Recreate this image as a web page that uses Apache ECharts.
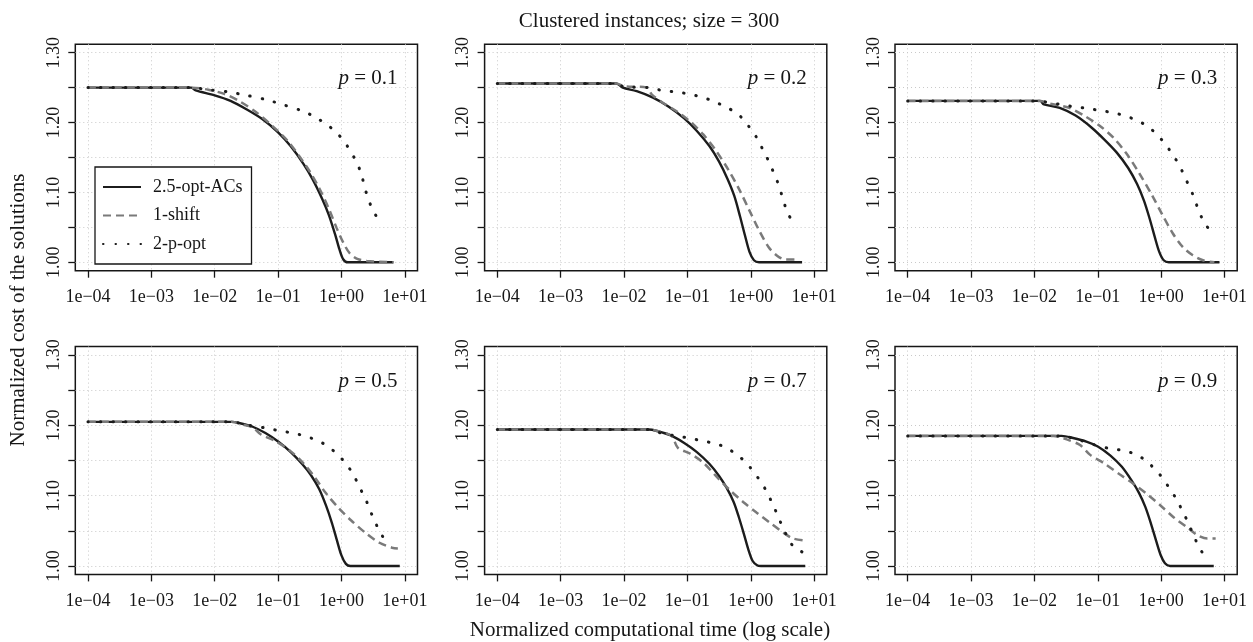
<!DOCTYPE html>
<html>
<head>
<meta charset="utf-8">
<script src="https://cdn.jsdelivr.net/npm/echarts@6/dist/echarts.min.js"></script>
<style>
html,body{margin:0;padding:0;background:#fff;}
#chart{width:1253px;height:642px;}
</style>
</head>
<body>
<div id="chart"></div>
<script>
// ---------- data (time given as log10 of normalized computational time) ----------
const seriesNames = ['2.5-opt-ACs', '1-shift', '2-p-opt'];
const panelLabels = ['0.1', '0.2', '0.3', '0.5', '0.7', '0.9'];
const xTickExponents = [-4, -3, -2, -1, 0, 1];
const yTickValues = [1.00, 1.05, 1.10, 1.15, 1.20, 1.25, 1.30];
const yLabelValues = [1.00, 1.10, 1.20, 1.30];

// p = 0.1
const p1_acs_t   = [-4, -2.37, -2.30, -2.0, -1.75, -1.5, -1.25, -1.0, -0.8, -0.6, -0.45, -0.3, -0.2, -0.1, -0.03, 0.03, 0.1, 0.82];
const p1_acs_c   = [1.250, 1.250, 1.246, 1.239, 1.231, 1.219, 1.205, 1.186, 1.166, 1.141, 1.118, 1.090, 1.068, 1.040, 1.018, 1.004, 1.000, 1.000];
const p1_shift_t = [-4, -2.37, -2.1, -1.85, -1.6, -1.35, -1.1, -0.85, -0.65, -0.5, -0.35, -0.2, -0.08, 0.03, 0.13, 0.25, 0.4, 0.82];
const p1_shift_c = [1.250, 1.250, 1.247, 1.241, 1.230, 1.215, 1.196, 1.174, 1.150, 1.130, 1.106, 1.077, 1.050, 1.028, 1.013, 1.005, 1.002, 1.000];
const p1_popt_t  = [-4, -2.37, -2.1, -1.8, -1.5, -1.2, -0.9, -0.6, -0.4, -0.2, -0.05, 0.08, 0.2, 0.3, 0.39, 0.46, 0.55, 0.66];
const p1_popt_c  = [1.250, 1.250, 1.247, 1.244, 1.239, 1.233, 1.225, 1.216, 1.207, 1.195, 1.183, 1.168, 1.150, 1.130, 1.100, 1.082, 1.066, 1.054];

// p = 0.2
const p2_acs_t   = [-4, -2.12, -2.02, -1.8, -1.55, -1.3, -1.05, -0.85, -0.65, -0.5, -0.37, -0.26, -0.17, -0.09, -0.02, 0.05, 0.13, 0.81];
const p2_acs_c   = [1.256, 1.256, 1.250, 1.245, 1.236, 1.223, 1.206, 1.188, 1.166, 1.144, 1.120, 1.095, 1.066, 1.038, 1.015, 1.003, 1.000, 1.000];
const p2_shift_t = [-4, -2.12, -2.0, -1.64, -1.56, -1.4, -1.15, -0.95, -0.75, -0.55, -0.35, -0.18, -0.02, 0.13, 0.28, 0.42, 0.55, 0.75];
const p2_shift_c = [1.256, 1.256, 1.252, 1.250, 1.240, 1.229, 1.215, 1.201, 1.183, 1.160, 1.132, 1.104, 1.074, 1.046, 1.022, 1.009, 1.004, 1.004];
const p2_popt_t  = [-4, -2.12, -2.0, -1.6, -1.4, -1.2, -0.98, -0.8, -0.6, -0.41, -0.25, -0.12, -0.01, 0.09, 0.17, 0.25, 0.33, 0.41, 0.47, 0.52, 0.58, 0.67];
const p2_popt_c  = [1.256, 1.256, 1.251, 1.250, 1.246, 1.244, 1.241, 1.237, 1.231, 1.223, 1.215, 1.205, 1.192, 1.179, 1.165, 1.151, 1.135, 1.118, 1.102, 1.087, 1.071, 1.057];

// p = 0.3
const p3_acs_t   = [-4, -1.91, -1.85, -1.6, -1.35, -1.1, -0.9, -0.7, -0.52, -0.38, -0.27, -0.18, -0.1, -0.03, 0.04, 0.12, 0.92];
const p3_acs_c   = [1.231, 1.231, 1.226, 1.221, 1.210, 1.193, 1.176, 1.157, 1.135, 1.112, 1.088, 1.062, 1.036, 1.015, 1.003, 1.000, 1.000];
const p3_shift_t = [-4, -1.91, -1.75, -1.45, -1.2, -0.95, -0.75, -0.55, -0.35, -0.15, 0.02, 0.18, 0.34, 0.5, 0.66, 0.84];
const p3_shift_c = [1.231, 1.231, 1.227, 1.221, 1.209, 1.194, 1.178, 1.156, 1.128, 1.097, 1.068, 1.042, 1.022, 1.010, 1.003, 1.000];
const p3_popt_t  = [-4, -1.91, -1.8, -1.6, -1.4, -1.15, -0.95, -0.75, -0.55, -0.38, -0.22, -0.08, 0.05, 0.16, 0.26, 0.34, 0.42, 0.5, 0.56, 0.63, 0.71, 0.81];
const p3_popt_c  = [1.231, 1.231, 1.229, 1.226, 1.223, 1.220, 1.217, 1.214, 1.209, 1.203, 1.195, 1.184, 1.171, 1.157, 1.143, 1.129, 1.113, 1.097, 1.082, 1.066, 1.053, 1.041];

// p = 0.5
const p4_acs_t   = [-4, -1.737, -1.6, -1.4, -1.2, -1.0, -0.8, -0.62, -0.48, -0.35, -0.24, -0.15, -0.07, 0.0, 0.07, 0.14, 0.92];
const p4_acs_c   = [1.205, 1.205, 1.203, 1.198, 1.189, 1.177, 1.162, 1.145, 1.129, 1.109, 1.085, 1.061, 1.036, 1.015, 1.003, 1.000, 1.000];
const p4_shift_t = [-4, -1.737, -1.55, -1.4, -1.27, -1.05, -0.8, -0.6, -0.42, -0.25, -0.05, 0.15, 0.38, 0.6, 0.8, 0.89];
const p4_shift_c = [1.205, 1.205, 1.201, 1.197, 1.187, 1.178, 1.163, 1.146, 1.126, 1.104, 1.083, 1.065, 1.047, 1.033, 1.026, 1.025];
const p4_popt_t  = [-4, -1.737, -1.6, -1.4, -1.18, -0.97, -0.76, -0.55, -0.37, -0.21, -0.08, 0.05, 0.16, 0.25, 0.33, 0.41, 0.48, 0.56, 0.65, 0.76];
const p4_popt_c  = [1.205, 1.205, 1.203, 1.199, 1.196, 1.192, 1.189, 1.184, 1.178, 1.170, 1.160, 1.148, 1.134, 1.119, 1.104, 1.089, 1.073, 1.057, 1.042, 1.030];

// p = 0.7
const p5_acs_t   = [-4, -1.616, -1.48, -1.27, -1.05, -0.85, -0.65, -0.5, -0.38, -0.27, -0.19, -0.11, -0.04, 0.03, 0.1, 0.16, 0.86];
const p5_acs_c   = [1.194, 1.194, 1.192, 1.186, 1.175, 1.162, 1.145, 1.128, 1.111, 1.091, 1.070, 1.046, 1.024, 1.007, 1.001, 1.000, 1.000];
const p5_shift_t = [-4, -1.616, -1.43, -1.25, -1.15, -0.96, -0.75, -0.55, -0.33, -0.12, 0.09, 0.31, 0.52, 0.67, 0.86];
const p5_shift_c = [1.194, 1.194, 1.191, 1.185, 1.168, 1.160, 1.147, 1.128, 1.108, 1.091, 1.076, 1.061, 1.047, 1.039, 1.036];
const p5_popt_t  = [-4, -1.616, -1.59, -1.41, -1.19, -0.98, -0.77, -0.56, -0.38, -0.22, -0.07, 0.04, 0.15, 0.25, 0.33, 0.41, 0.49, 0.57, 0.67, 0.83];
const p5_popt_c  = [1.194, 1.194, 1.193, 1.189, 1.185, 1.182, 1.178, 1.174, 1.168, 1.158, 1.147, 1.134, 1.121, 1.106, 1.091, 1.075, 1.058, 1.043, 1.028, 1.019];

// p = 0.9
const p6_acs_t   = [-4, -1.571, -1.39, -1.18, -1.0, -0.8, -0.62, -0.47, -0.35, -0.25, -0.16, -0.08, -0.01, 0.06, 0.14, 0.83];
const p6_acs_c   = [1.185, 1.185, 1.182, 1.177, 1.170, 1.157, 1.141, 1.122, 1.104, 1.084, 1.060, 1.036, 1.016, 1.004, 1.000, 1.000];
const p6_shift_t = [-4, -1.70, -1.49, -1.28, -1.12, -0.9, -0.65, -0.44, -0.22, -0.01, 0.2, 0.41, 0.57, 0.73, 0.86];
const p6_shift_c = [1.185, 1.185, 1.180, 1.172, 1.158, 1.146, 1.130, 1.117, 1.102, 1.086, 1.069, 1.055, 1.044, 1.039, 1.039];
const p6_popt_t  = [-4, -1.571, -1.49, -1.28, -1.04, -0.81, -0.59, -0.38, -0.22, -0.08, 0.04, 0.14, 0.25, 0.33, 0.42, 0.50, 0.58, 0.67];
const p6_popt_c  = [1.185, 1.185, 1.184, 1.179, 1.172, 1.167, 1.164, 1.158, 1.148, 1.136, 1.123, 1.109, 1.094, 1.079, 1.063, 1.046, 1.030, 1.016];

const panels = [
  [[p1_acs_t, p1_acs_c], [p1_shift_t, p1_shift_c], [p1_popt_t, p1_popt_c]],
  [[p2_acs_t, p2_acs_c], [p2_shift_t, p2_shift_c], [p2_popt_t, p2_popt_c]],
  [[p3_acs_t, p3_acs_c], [p3_shift_t, p3_shift_c], [p3_popt_t, p3_popt_c]],
  [[p4_acs_t, p4_acs_c], [p4_shift_t, p4_shift_c], [p4_popt_t, p4_popt_c]],
  [[p5_acs_t, p5_acs_c], [p5_shift_t, p5_shift_c], [p5_popt_t, p5_popt_c]],
  [[p6_acs_t, p6_acs_c], [p6_shift_t, p6_shift_c], [p6_popt_t, p6_popt_c]]
];

// ---------- layout / style ----------
const FONT = "'Liberation Serif', 'DejaVu Serif', serif";
const INK = '#161616';
const colLeft = [75.3, 484.6, 895.0];
const boxW = 342.2;
const rowTop = [44.3, 346.6];
const boxH = [226.4, 227.8];

const lineStyles = [
  { color: '#1c1c1c', width: 2.4, type: 'solid' },
  { color: '#7a7a7a', width: 2.5, type: [8, 5] },
  { color: '#1c1c1c', width: 3.0, type: [0.5, 12], cap: 'round' }
];

function xLabel(v) {
  const e = Math.round(v);
  const s = e < 0 ? '\u2212' : '+';
  const a = Math.abs(e);
  return '1e' + s + (a < 10 ? '0' + a : '' + a);
}

const grids = [], xAxes = [], yAxes = [], series = [], titles = [];
for (let i = 0; i < 6; i++) {
  const r = Math.floor(i / 3), c = i % 3;
  grids.push({
    left: colLeft[c], top: rowTop[r], width: boxW, height: boxH[r],
    show: true, borderColor: INK, borderWidth: 1.5, backgroundColor: 'transparent'
  });
  xAxes.push({
    type: 'value', gridIndex: i, min: -4.2, max: 1.2,
    axisLine: { show: false, onZero: false },
    axisTick: { show: true, length: 7, customValues: xTickExponents, lineStyle: { color: INK, width: 1.3 } },
    axisLabel: { customValues: xTickExponents, formatter: xLabel, fontFamily: FONT, fontSize: 18, color: INK, margin: 18 },
    splitLine: { show: true, lineStyle: { color: '#c9c9c9', width: 1, type: [1, 3] } }
  });
  yAxes.push({
    type: 'value', gridIndex: i, min: 0.988, max: 1.312,
    axisLine: { show: false, onZero: false },
    axisTick: { show: true, length: 7, customValues: yTickValues, lineStyle: { color: INK, width: 1.3 } },
    axisLabel: { customValues: yLabelValues, formatter: v => v.toFixed(2), rotate: 90, fontFamily: FONT, fontSize: 18, color: INK, margin: 12 },
    splitLine: { show: true, lineStyle: { color: '#c9c9c9', width: 1, type: [1, 3] } }
  });
  for (let s = 0; s < 3; s++) {
    const [t, cost] = panels[i][s];
    series.push({
      type: 'line', name: seriesNames[s], xAxisIndex: i, yAxisIndex: i,
      data: t.map((v, k) => [v, cost[k]]),
      symbol: 'none', showSymbol: false, smooth: 0.3,
      lineStyle: lineStyles[s], itemStyle: { color: lineStyles[s].color },
      z: 2 + s, silent: true, animation: false
    });
  }
  titles.push({
    text: '{i|p} = ' + panelLabels[i],
    right: 1253 - (colLeft[c] + boxW) + 15,
    top: rowTop[r] + 19,
    textStyle: {
      fontFamily: FONT, fontSize: 21, fontWeight: 'normal', color: INK,
      rich: { i: { fontFamily: FONT, fontSize: 21, fontStyle: 'italic', color: INK } }
    }
  });
}

const chart = echarts.init(document.getElementById('chart'), null, { renderer: 'canvas' });
chart.setOption({
  animation: false,
  backgroundColor: '#fff',
  title: titles,
  grid: grids,
  xAxis: xAxes,
  yAxis: yAxes,
  series: series,
  legend: {
    data: seriesNames,
    orient: 'vertical',
    left: 95, top: 167,
    itemWidth: 38, itemHeight: 14, itemGap: 10.5,
    padding: [11, 9, 11, 7],
    borderColor: INK, borderWidth: 1.3, backgroundColor: '#fff',
    itemStyle: { opacity: 0 },
    textStyle: { fontFamily: FONT, fontSize: 18, color: INK, padding: [0, 0, 0, 7] },
    selectedMode: false
  },
  graphic: [
    { type: 'text', x: 649, y: 21, style: { text: 'Clustered instances; size = 300', fontFamily: FONT, fontSize: 21, fill: INK, align: 'center', verticalAlign: 'middle' } },
    { type: 'text', x: 650, y: 630, style: { text: 'Normalized computational time (log scale)', fontFamily: FONT, fontSize: 21, fill: INK, align: 'center', verticalAlign: 'middle' } },
    { type: 'text', x: 18, y: 310, rotation: Math.PI / 2, style: { text: 'Normalized cost of the solutions', fontFamily: FONT, fontSize: 21, fill: INK, align: 'center', verticalAlign: 'middle' } }
  ]
});
</script>
</body>
</html>
